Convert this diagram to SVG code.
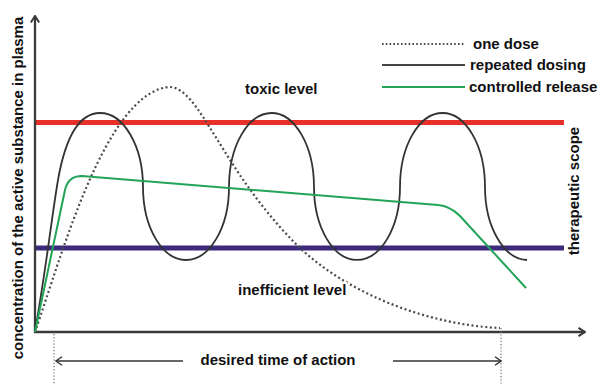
<svg xmlns="http://www.w3.org/2000/svg" width="600" height="385" viewBox="0 0 600 385">
<defs>
<style>
.t{font-family:"Liberation Sans",Arial,sans-serif;font-weight:bold;font-size:15px;fill:#111}
.axis{stroke:#3a3a3a;stroke-width:2.3;fill:none}
.thin{stroke:#333;stroke-width:1.5;fill:none}
.dots{stroke:#4a4a4a;stroke-width:2.2;fill:none;stroke-dasharray:2 2.6}
.vdots{stroke:#777;stroke-width:1.3;fill:none;stroke-dasharray:1.2 2}
.rep{stroke:#333;stroke-width:1.8;fill:none}
.cr{stroke:#22a456;stroke-width:2;fill:none;stroke-linejoin:round}
</style>
<marker id="ah" viewBox="0 0 10 10" refX="9" refY="5" markerWidth="10" markerHeight="10" markerUnits="userSpaceOnUse" orient="auto">
<path d="M2.5,0.8 L9,5 L2.5,9.2" fill="none" stroke="#3a3a3a" stroke-width="2"/>
</marker>
<marker id="ah2" viewBox="0 0 10 10" refX="9" refY="5" markerWidth="10" markerHeight="10" markerUnits="userSpaceOnUse" orient="auto">
<path d="M3,0.8 L9,5 L3,9.2" fill="none" stroke="#333" stroke-width="1.4"/>
</marker>
</defs>
<rect width="600" height="385" fill="#fff"/>

<g id="levels">
<line x1="35" y1="122.5" x2="564" y2="122.5" stroke="#e8302a" stroke-width="5"/>
<line x1="35" y1="248" x2="564" y2="248" stroke="#3d2a7d" stroke-width="5"/>
</g>

<g id="axes">
<line class="axis" x1="35" y1="333" x2="35" y2="16" marker-end="url(#ah)"/>
<line class="axis" x1="34" y1="332" x2="585" y2="332" marker-end="url(#ah)"/>
</g>

<g id="connectors">
<line class="vdots" x1="54" y1="334" x2="54" y2="385"/>
<line class="vdots" x1="501" y1="328" x2="501" y2="385"/>
<line class="thin" x1="183" y1="361" x2="56" y2="361" marker-end="url(#ah2)"/>
<line class="thin" x1="393" y1="361" x2="501" y2="361" marker-end="url(#ah2)"/>
</g>

<g id="curves">
<path id="one-dose" class="dots" d="M35,332 C62,255 105,95 168,87 C200,85 220,170 300,248 C350,295 430,325 500,328"/>
<path id="repeated" class="rep" d="M35,332 C47,262 52,215 58,180 C65,140 78,113 100,113 A43,74 0 0 1 143,187 A43,73 0 0 0 229,187 A42.5,74 0 0 1 314,187 A43,73 0 0 0 400,187 A42.5,74 0 0 1 485,187 A43,73 0 0 0 527,260"/>
<path id="controlled" class="cr" d="M35,332 L65,190 Q68,176 82,176 L438,205 Q450,206 460,216 L526,288"/>
</g>

<g id="legend">
<line class="dots" x1="382" y1="44" x2="465" y2="44" style="stroke-dasharray:1.6 2.2;stroke-width:1.8"/>
<text class="t" x="473" y="49">one dose</text>
<line x1="382" y1="65" x2="465" y2="65" stroke="#444" stroke-width="2"/>
<text class="t" x="470" y="70">repeated dosing</text>
<line x1="382" y1="87" x2="465" y2="87" stroke="#22a456" stroke-width="2"/>
<text class="t" x="469" y="92">controlled release</text>
</g>

<g id="labels">
<text class="t" x="245" y="94">toxic level</text>
<text class="t" x="238" y="295" stroke="#fff" stroke-width="4" paint-order="stroke">inefficient level</text>
<text class="t" x="278" y="365" text-anchor="middle">desired time of action</text>
<text class="t" transform="translate(23,188) rotate(-90)" text-anchor="middle">concentration of the active substance in plasma</text>
<text class="t" transform="translate(579,191) rotate(-90)" text-anchor="middle">therapeutic scope</text>
</g>
</svg>
